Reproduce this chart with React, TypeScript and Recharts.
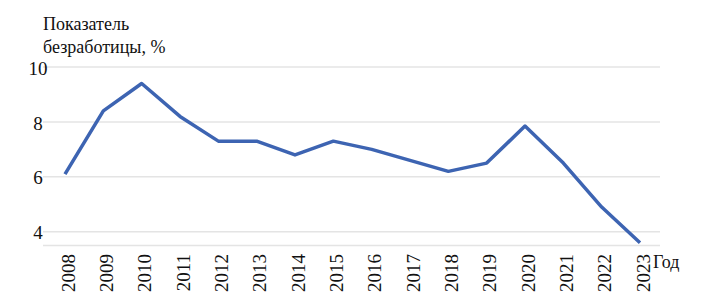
import React from 'react';
import { CartesianGrid, Line, LineChart, XAxis, YAxis } from 'recharts';

const YEARS = ['2008', '2009', '2010', '2011', '2012', '2013', '2014', '2015', '2016', '2017', '2018', '2019', '2020', '2021', '2022', '2023'];
const UNEMPLOYMENT = [6.1, 8.4, 9.4, 8.2, 7.3, 7.3, 6.8, 7.3, 7.0, 6.6, 6.2, 6.5, 7.85, 6.5, 4.9, 3.6];
const Y_TICKS = [4, 6, 8, 10];
const Y_TITLE = ['Показатель', 'безработицы, %'];
const X_TITLE = 'Год';

const data = YEARS.map((year, i) => ({ year, value: UNEMPLOYMENT[i] }));

const FONT = '"Liberation Serif", "DejaVu Serif", serif';

function YearTick(props: any) {
  const { x, payload } = props;
  return (
    <text
      transform={`translate(${x + 3}, 254) rotate(-90)`}
      textAnchor="end"
      dy="0.35em"
      fontFamily={FONT}
      fontSize={19}
      fill="#111"
    >
      {payload.value}
    </text>
  );
}

function ValueTick(props: any) {
  const { y, payload } = props;
  return (
    <text x={38} y={y} dy="0.4em" textAnchor="middle" fontFamily={FONT} fontSize={19} fill="#111">
      {payload.value}
    </text>
  );
}

export default function App() {
  return (
    <div style={{ position: 'absolute', left: 0, top: 0, width: 715, height: 307, background: '#fff', fontFamily: FONT, color: '#111' }}>
      <div style={{ position: 'absolute', left: 43, top: 13, fontSize: 18, lineHeight: '23px' }}>
        {Y_TITLE.map((t) => (
          <div key={t}>{t}</div>
        ))}
      </div>
      <div style={{ position: 'absolute', left: 653, top: 251, fontSize: 18, lineHeight: '23px' }}>{X_TITLE}</div>
      <LineChart width={715} height={307} data={data} margin={{ top: 67, right: 55, bottom: 0, left: 0 }}>
        <CartesianGrid vertical={false} stroke="#e4e4e4" strokeWidth={1.5} />
        <XAxis
          dataKey="year"
          height={61.5}
          axisLine={false}
          tickLine={false}
          interval={0}
          padding={{ left: 22, right: 20 }}
          tick={<YearTick />}
        />
        <YAxis
          width={43}
          domain={[3.5, 10]}
          ticks={Y_TICKS}
          axisLine={false}
          tickLine={false}
          tick={<ValueTick />}
        />
        <Line
          type="linear"
          dataKey="value"
          stroke="#3d64b2"
          strokeWidth={3.5}
          dot={false}
          strokeLinejoin="round"
          isAnimationActive={false}
        />
      </LineChart>
    </div>
  );
}
